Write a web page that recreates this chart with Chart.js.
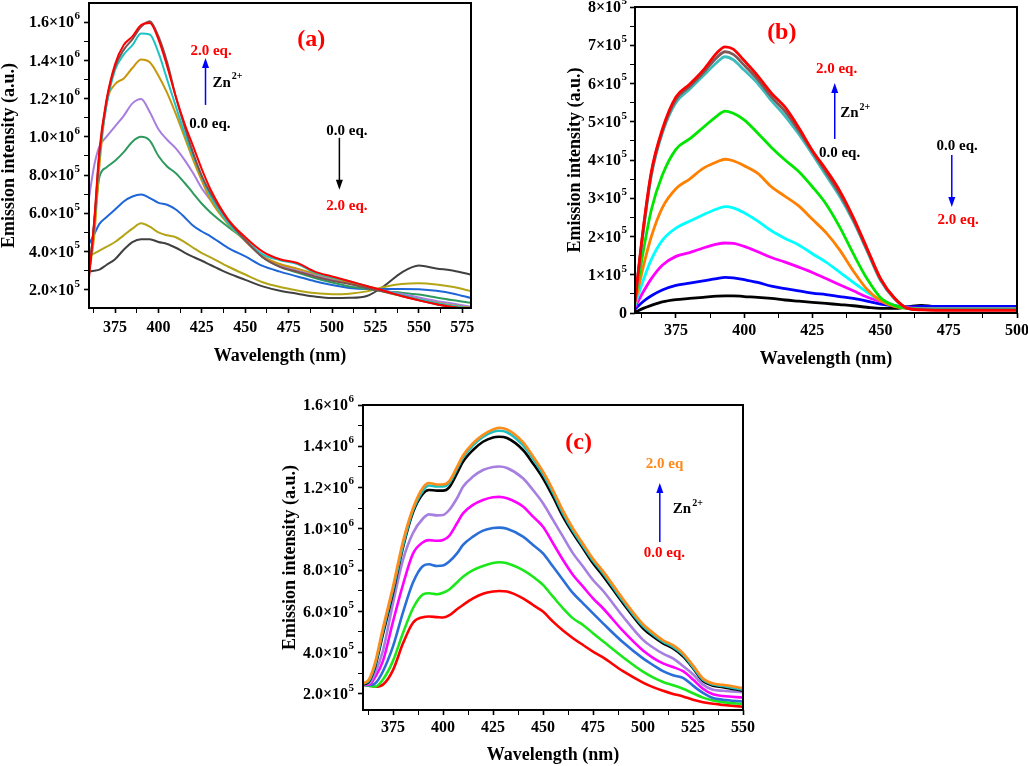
<!DOCTYPE html>
<html>
<head>
<meta charset="utf-8">
<script src="https://cdn.jsdelivr.net/npm/chart.js@4.4.1/dist/chart.umd.min.js"></script>
<style>
  body { margin: 0; background: #fff; width: 1028px; height: 766px; position: relative; overflow: hidden; }
  canvas { position: absolute; }
</style>
</head>
<body>
<canvas id="panelA" width="490" height="380" style="left:0px;top:0px"></canvas>
<canvas id="panelB" width="508" height="380" style="left:520px;top:0px"></canvas>
<canvas id="panelC" width="500" height="376" style="left:270px;top:390px"></canvas>
<script>
// all intensities in units of 10^5 a.u.

// ---- panel (a) ----
const wlA = [360, 363, 366, 370, 375, 380, 385, 390, 395, 400, 405, 410, 415, 420, 425, 430, 440, 450, 460, 470, 480, 490, 500, 510, 520, 530, 540, 550, 560, 570, 580];
const a00 = [2.96, 3.0, 3.06, 3.3, 3.6, 4.1, 4.5, 4.65, 4.65, 4.5, 4.4, 4.2, 3.95, 3.72, 3.52, 3.3, 2.87, 2.52, 2.18, 1.95, 1.8, 1.65, 1.57, 1.58, 1.68, 2.2, 2.9, 3.27, 3.12, 3.0, 2.79];
const a01 = [3.74, 3.9, 4.05, 4.25, 4.5, 4.85, 5.2, 5.48, 5.3, 5.0, 4.85, 4.75, 4.5, 4.2, 3.92, 3.7, 3.22, 2.8, 2.4, 2.15, 1.97, 1.83, 1.77, 1.8, 1.92, 2.15, 2.3, 2.34, 2.28, 2.15, 1.93];
const a02 = [4.4, 4.9, 5.45, 5.8, 6.2, 6.62, 6.88, 6.98, 6.8, 6.55, 6.45, 6.2, 5.8, 5.35, 5.05, 4.8, 4.2, 3.75, 3.25, 2.95, 2.7, 2.45, 2.25, 2.1, 2.05, 2.05, 2.05, 2.03, 1.95, 1.8, 1.57];
const a03 = [2.9, 5.5, 7.9, 8.4, 8.75, 9.2, 9.75, 10.0, 9.8, 9.0, 8.45, 8.1, 7.6, 7.05, 6.5, 6.05, 5.3, 4.6, 3.7, 3.2, 2.9, 2.62, 2.38, 2.18, 2.05, 1.93, 1.85, 1.75, 1.6, 1.45, 1.32];
const a04 = [6.8, 8.5, 9.5, 10.0, 10.55, 11.1, 11.75, 11.98, 11.3, 10.4, 9.85, 9.4, 8.8, 8.1, 7.3, 6.7, 5.65, 4.55, 3.75, 3.3, 3.0, 2.8, 2.55, 2.35, 2.15, 1.95, 1.78, 1.6, 1.42, 1.27, 1.12];
const a05 = [2.9, 4.8, 8.5, 11.7, 12.75, 13.05, 13.6, 14.05, 13.9, 13.2, 12.3, 11.2, 10.0, 8.8, 7.7, 6.7, 5.45, 4.55, 3.75, 3.35, 3.1, 2.85, 2.62, 2.38, 2.15, 1.9, 1.68, 1.5, 1.33, 1.18, 1.05];
const a06 = [2.8, 5.4, 9.0, 11.6, 13.5, 14.3, 14.8, 15.4, 15.35, 14.4, 13.0, 11.6, 10.2, 9.0, 7.9, 6.9, 5.5, 4.6, 3.85, 3.55, 3.35, 2.9, 2.65, 2.45, 2.2, 1.95, 1.72, 1.5, 1.3, 1.15, 1.0];
const a07 = [2.8, 5.5, 9.1, 11.8, 13.65, 14.55, 15.1, 15.75, 16.05, 15.25, 13.9, 12.1, 10.55, 9.15, 7.95, 7.05, 5.65, 4.6, 3.7, 3.2, 2.95, 2.7, 2.48, 2.3, 2.1, 1.9, 1.68, 1.45, 1.25, 1.05, 0.9];
const a08 = [2.6, 5.6, 9.3, 11.9, 13.8, 14.8, 15.25, 15.85, 15.95, 15.1, 13.7, 12.1, 10.7, 9.5, 8.3, 7.25, 5.7, 4.75, 4.0, 3.6, 3.4, 2.95, 2.7, 2.45, 2.2, 1.95, 1.68, 1.45, 1.25, 1.1, 0.95];
const colorsA = ['#404040', '#b3a516', '#1e66d8', '#2e9a5e', '#a87de0', '#c8960c', '#1cc3c3', '#7d5050', '#ff0000'];
const xTicksA = [362.5, 375, 387.5, 400, 412.5, 425, 437.5, 450, 462.5, 475, 487.5, 500, 512.5, 525, 537.5, 550, 562.5, 575];
const yTicksA = [2, 3, 4, 5, 6, 7, 8, 9, 10, 11, 12, 13, 14, 15, 16];

// ---- panel (b) ----
const wlB = [360, 363, 366, 370, 375, 380, 385, 390, 393, 396, 400, 405, 410, 415, 420, 425, 430, 435, 440, 445, 450, 455, 460, 465, 470, 480, 490, 500];
const b00 = [0.02, 0.12, 0.2, 0.29, 0.35, 0.38, 0.41, 0.44, 0.45, 0.45, 0.43, 0.41, 0.38, 0.34, 0.31, 0.28, 0.25, 0.22, 0.19, 0.15, 0.12, 0.12, 0.16, 0.2, 0.17, 0.17, 0.17, 0.17];
const b01 = [0.1, 0.3, 0.45, 0.6, 0.72, 0.78, 0.84, 0.9, 0.93, 0.92, 0.87, 0.8, 0.7, 0.64, 0.58, 0.52, 0.48, 0.43, 0.38, 0.31, 0.23, 0.18, 0.16, 0.17, 0.17, 0.17, 0.17, 0.17];
const b02 = [0.15, 0.55, 0.9, 1.25, 1.48, 1.58, 1.7, 1.8, 1.83, 1.82, 1.74, 1.6, 1.45, 1.33, 1.2, 1.06, 0.9, 0.74, 0.58, 0.42, 0.3, 0.2, 0.14, 0.12, 0.12, 0.12, 0.12, 0.12];
const b03 = [0.2, 0.85, 1.4, 1.9, 2.22, 2.4, 2.57, 2.72, 2.78, 2.75, 2.62, 2.4, 2.15, 1.95, 1.78, 1.55, 1.33, 1.07, 0.8, 0.55, 0.33, 0.2, 0.13, 0.11, 0.11, 0.11, 0.11, 0.11];
const b04 = [0.25, 1.2, 2.0, 2.75, 3.25, 3.5, 3.78, 3.95, 4.02, 3.98, 3.85, 3.65, 3.3, 3.05, 2.8, 2.45, 2.1, 1.65, 1.1, 0.62, 0.32, 0.17, 0.12, 0.1, 0.1, 0.1, 0.1, 0.1];
const b05 = [0.3, 1.6, 2.7, 3.6, 4.28, 4.55, 4.85, 5.15, 5.28, 5.22, 5.05, 4.7, 4.33, 4.0, 3.7, 3.3, 2.85, 2.25, 1.55, 0.9, 0.4, 0.2, 0.12, 0.1, 0.1, 0.1, 0.1, 0.1];
const b06 = [0.3, 2.1, 3.6, 4.7, 5.5, 5.85, 6.2, 6.55, 6.7, 6.62, 6.35, 6.0, 5.55, 5.15, 4.68, 4.15, 3.6, 3.05, 2.4, 1.63, 0.85, 0.38, 0.12, 0.09, 0.09, 0.09, 0.09, 0.09];
const b07 = [0.3, 2.15, 3.65, 4.75, 5.58, 5.92, 6.28, 6.68, 6.83, 6.76, 6.48, 6.1, 5.65, 5.27, 4.77, 4.22, 3.68, 3.12, 2.45, 1.66, 0.88, 0.39, 0.12, 0.09, 0.08, 0.08, 0.08, 0.08];
const b08 = [0.3, 2.2, 3.7, 4.8, 5.65, 5.98, 6.35, 6.8, 6.96, 6.9, 6.6, 6.2, 5.75, 5.38, 4.85, 4.25, 3.75, 3.2, 2.5, 1.7, 0.9, 0.4, 0.12, 0.08, 0.07, 0.07, 0.07, 0.07];
const colorsB = ['#000000', '#0000ff', '#ff00ff', '#00ffff', '#ff8000', '#00e600', '#3cbcbc', '#805858', '#ff0000'];
const xTicksB = [362.5, 375, 387.5, 400, 412.5, 425, 437.5, 450, 462.5, 475, 487.5, 500];
const yTicksB = [0, 0.5, 1, 1.5, 2, 2.5, 3, 3.5, 4, 4.5, 5, 5.5, 6, 6.5, 7, 7.5, 8];

// ---- panel (c) ----
const wlC = [360, 363, 366, 370, 375, 380, 385, 390, 393, 397, 400, 403, 407, 410, 415, 420, 425, 428, 432, 440, 445, 450, 455, 460, 465, 470, 475, 480, 490, 500, 505, 510, 515, 520, 525, 530, 535, 540, 550];
const c00 = [2.45, 2.4, 2.35, 2.45, 3.15, 4.45, 5.45, 5.72, 5.75, 5.72, 5.7, 5.8, 6.1, 6.31, 6.63, 6.85, 6.96, 6.99, 6.96, 6.63, 6.31, 5.99, 5.5, 5.07, 4.7, 4.37, 4.05, 3.77, 3.1, 2.55, 2.33, 2.15, 2.0, 1.88, 1.72, 1.6, 1.52, 1.47, 1.38];
const c01 = [2.45, 2.4, 2.35, 2.7, 3.6, 4.95, 6.15, 6.82, 6.88, 6.83, 6.9, 7.05, 7.4, 7.68, 8.0, 8.2, 8.34, 8.38, 8.33, 8.0, 7.68, 7.28, 6.71, 6.15, 5.66, 5.34, 4.94, 4.55, 3.78, 3.08, 2.8, 2.58, 2.42, 2.25, 2.03, 1.82, 1.68, 1.6, 1.5];
const c02 = [2.45, 2.42, 2.5, 3.1, 4.3, 5.95, 7.4, 8.2, 8.28, 8.2, 8.22, 8.4, 8.81, 9.22, 9.62, 9.91, 10.04, 10.06, 10.0, 9.62, 9.22, 8.81, 8.17, 7.52, 6.88, 6.39, 5.9, 5.42, 4.5, 3.72, 3.4, 3.1, 2.9, 2.78, 2.4, 2.05, 1.8, 1.72, 1.63];
const c03 = [2.45, 2.45, 2.8, 3.6, 5.5, 7.3, 8.8, 9.35, 9.45, 9.42, 9.46, 9.65, 10.27, 10.75, 11.16, 11.4, 11.53, 11.55, 11.48, 11.08, 10.59, 10.1, 9.3, 8.49, 7.76, 7.2, 6.63, 6.15, 5.05, 4.1, 3.75, 3.48, 3.3, 3.1, 2.7, 2.25, 1.98, 1.9, 1.82];
const c04 = [2.45, 2.5, 3.0, 4.1, 6.4, 8.5, 9.8, 10.5, 10.7, 10.65, 10.67, 10.9, 11.48, 12.04, 12.53, 12.85, 13.0, 13.02, 12.95, 12.45, 11.88, 11.24, 10.43, 9.62, 8.81, 8.17, 7.52, 7.0, 5.75, 4.62, 4.25, 3.95, 3.72, 3.35, 2.95, 2.45, 2.2, 2.15, 2.08];
const c05 = [2.45, 2.6, 3.3, 4.9, 6.9, 9.1, 10.8, 11.7, 11.88, 11.85, 11.85, 12.0, 12.69, 13.25, 13.82, 14.22, 14.43, 14.46, 14.4, 13.82, 13.17, 12.45, 11.56, 10.59, 9.78, 9.06, 8.33, 7.72, 6.4, 5.18, 4.78, 4.45, 4.2, 3.82, 3.25, 2.62, 2.4, 2.33, 2.15];
const c06 = [2.5, 2.65, 3.4, 5.05, 7.05, 9.2, 10.9, 11.85, 12.1, 12.05, 12.05, 12.2, 12.9, 13.45, 14.05, 14.45, 14.7, 14.75, 14.68, 14.05, 13.4, 12.65, 11.75, 10.75, 9.9, 9.17, 8.45, 7.85, 6.5, 5.28, 4.88, 4.53, 4.28, 3.9, 3.3, 2.68, 2.45, 2.38, 2.2];
const c07 = [2.5, 2.7, 3.5, 5.2, 7.2, 9.4, 11.0, 12.0, 12.22, 12.15, 12.15, 12.3, 13.0, 13.55, 14.15, 14.55, 14.82, 14.9, 14.82, 14.2, 13.52, 12.78, 11.88, 10.88, 10.02, 9.28, 8.55, 7.95, 6.6, 5.38, 4.96, 4.6, 4.36, 3.98, 3.38, 2.75, 2.5, 2.44, 2.28];
const colorsC = ['#ff0000', '#1be81b', '#2a6fd8', '#ff00ff', '#a67fe0', '#000000', '#1fbfbf', '#ff8c1a'];
const xTicksC = [362.5, 375, 387.5, 400, 412.5, 425, 437.5, 450, 462.5, 475, 487.5, 500, 512.5, 525, 537.5, 550];
const yTicksC = [2, 3, 4, 5, 6, 7, 8, 9, 10, 11, 12, 13, 14, 15, 16];

const serif = '"Liberation Serif", "Times New Roman", serif';

// y labels as [base, exponent]; null for minor ticks
function sciLabel(v) {
    if (v % 2 !== 0) return null;
    return v >= 10 ? [(v / 10).toFixed(1) + '×10', '6'] : [v.toFixed(1) + '×10', '5'];
}

function intLabel(v) {
    if (v % 1 !== 0) return null;
    return v === 0 ? ['0', ''] : [v + '×10', '5'];
}

// frame, y tick labels with exponents, and text/arrow notes in data coordinates
function notesPlugin(notes, yTicks, yFmt, yGap) {
    return {
        id: 'notes',
        afterDraw(chart) {
            const ctx = chart.ctx;
            const a = chart.chartArea;
            const xs = chart.scales.x, ys = chart.scales.y;
            ctx.save();
            ctx.strokeStyle = '#000';
            ctx.lineWidth = 2;
            ctx.strokeRect(a.left, a.top, a.right - a.left, a.bottom - a.top);

            ctx.fillStyle = '#000';
            ctx.textBaseline = 'middle';
            yTicks.forEach(v => {
                const lab = yFmt(v);
                if (!lab) return;
                const py = ys.getPixelForValue(v);
                let right = a.left - yGap;
                ctx.font = 'bold 11px ' + serif;
                const supW = lab[1] ? ctx.measureText(lab[1]).width : 0;
                if (lab[1]) {
                    ctx.textAlign = 'right';
                    ctx.fillText(lab[1], right, py - 6);
                    right -= supW + 0.5;
                }
                ctx.font = 'bold 16px ' + serif;
                ctx.textAlign = 'right';
                ctx.fillText(lab[0], right, py + 1);
            });

            notes.arrows.forEach(ar => {
                const px = xs.getPixelForValue(ar.x);
                const p1 = ys.getPixelForValue(ar.from);
                const p2 = ys.getPixelForValue(ar.to);
                const dir = p2 < p1 ? 1 : -1;
                ctx.strokeStyle = ar.color;
                ctx.fillStyle = ar.color;
                ctx.lineWidth = 1.5;
                ctx.beginPath();
                ctx.moveTo(px, p1);
                ctx.lineTo(px, p2 + dir * 8);
                ctx.stroke();
                ctx.beginPath();
                ctx.moveTo(px, p2);
                ctx.lineTo(px - 3.5, p2 + dir * 10);
                ctx.lineTo(px + 3.5, p2 + dir * 10);
                ctx.closePath();
                ctx.fill();
            });

            notes.labels.forEach(lb => {
                const px = xs.getPixelForValue(lb.x);
                const py = ys.getPixelForValue(lb.y);
                ctx.fillStyle = lb.color;
                ctx.font = 'bold ' + (lb.size || 15) + 'px ' + serif;
                ctx.textAlign = lb.align || 'left';
                ctx.fillText(lb.text, px, py);
                if (lb.sup) {
                    const w = ctx.measureText(lb.text).width;
                    ctx.font = 'bold 10px ' + serif;
                    ctx.textAlign = 'left';
                    ctx.fillText(lb.sup, px + w + 1, py - 6);
                }
            });
            ctx.restore();
        }
    };
}

function buildChart(id, wl, series, colors, lw, xr, yr, xTicks, yTicks, yFmt, box, notes) {
    const datasets = series.map((vals, i) => ({
        data: wl.map((w, j) => ({x: w, y: vals[j]})),
        borderColor: colors[i],
        borderWidth: lw,
        pointRadius: 0,
        cubicInterpolationMode: 'monotone',
        fill: false
    })).reverse();  // highest eq. drawn on top

    const titleFont = {family: serif, size: 18, weight: 'bold', lineHeight: 1};
    const noPad = s => { s.paddingTop = 0; s.paddingBottom = 0; s.paddingLeft = 0; s.paddingRight = 0; };

    return new Chart(document.getElementById(id), {
        type: 'line',
        data: {datasets: datasets},
        options: {
            responsive: false,
            animation: false,
            devicePixelRatio: 1,
            layout: {padding: box.pad},
            plugins: {legend: {display: false}, tooltip: {enabled: false}},
            scales: {
                x: {
                    type: 'linear',
                    min: xr[0],
                    max: xr[1],
                    afterBuildTicks: s => { s.ticks = xTicks.map(v => ({value: v})); },
                    afterFit: s => { s.height = box.xHeight; noPad(s); },
                    border: {display: false},
                    grid: {
                        drawOnChartArea: false,
                        tickLength: 5,
                        color: '#000',
                        tickColor: '#000',
                        tickWidth: c => (c.tick && c.tick.value % 25 === 0 ? 1.6 : 1)
                    },
                    ticks: {
                        autoSkip: false,
                        maxRotation: 0,
                        padding: box.xTickPad,
                        color: '#000',
                        font: {family: serif, size: 16, weight: 'bold'},
                        callback: v => (v % 25 === 0 ? String(v) : '')
                    },
                    title: {
                        display: true,
                        text: 'Wavelength (nm)',
                        color: '#000',
                        font: titleFont,
                        padding: {top: 0, bottom: box.titleBottom}
                    }
                },
                y: {
                    min: yr[0],
                    max: yr[1],
                    afterBuildTicks: s => { s.ticks = yTicks.map(v => ({value: v})); },
                    afterFit: s => { s.width = box.yWidth; noPad(s); },
                    border: {display: false},
                    grid: {
                        drawOnChartArea: false,
                        tickLength: 5,
                        color: '#000',
                        tickColor: '#000',
                        tickWidth: c => (c.tick && yFmt(c.tick.value) ? 1.6 : 1)
                    },
                    ticks: {display: false},
                    title: {
                        display: true,
                        text: 'Emission intensity (a.u.)',
                        color: '#000',
                        font: titleFont,
                        padding: {top: 0, bottom: 0}
                    }
                }
            }
        },
        plugins: [notesPlugin(notes, yTicks, yFmt, box.yLabelGap)]
    });
}

const notesA = {
    labels: [
        {text: '(a)', x: 488, y: 15.07, color: '#ff0000', size: 24, align: 'center'},
        {text: '2.0 eq.', x: 418.4, y: 14.5, color: '#ff0000'},
        {text: 'Zn', sup: '2+', x: 431.1, y: 12.83, color: '#000'},
        {text: '0.0 eq.', x: 417.8, y: 10.68, color: '#000'},
        {text: '0.0 eq.', x: 496.7, y: 10.29, color: '#000'},
        {text: '2.0 eq.', x: 496.7, y: 6.39, color: '#ff0000'}
    ],
    arrows: [
        {x: 427.1, from: 11.67, to: 14.13, color: '#0000ff'},
        {x: 504.2, from: 9.95, to: 7.23, color: '#000'}
    ]
};

const notesB = {
    labels: [
        {text: '(b)', x: 413.8, y: 7.32, color: '#ff0000', size: 24, align: 'center'},
        {text: '2.0 eq.', x: 426.3, y: 6.38, color: '#ff0000'},
        {text: 'Zn', sup: '2+', x: 435.2, y: 5.22, color: '#000'},
        {text: '0.0 eq.', x: 427.4, y: 4.17, color: '#000'},
        {text: '0.0 eq.', x: 470.5, y: 4.37, color: '#000'},
        {text: '2.0 eq.', x: 470.9, y: 2.43, color: '#ff0000'}
    ],
    arrows: [
        {x: 433.2, from: 4.55, to: 6.01, color: '#0000ff'},
        {x: 476.1, from: 4.13, to: 2.77, color: '#0000ff'}
    ]
};

const notesC = {
    labels: [
        {text: '(c)', x: 467.8, y: 14.16, color: '#ff0000', size: 24, align: 'center'},
        {text: '2.0 eq', x: 501.4, y: 13.12, color: '#ff8a1a'},
        {text: 'Zn', sup: '2+', x: 514.9, y: 10.94, color: '#000'},
        {text: '0.0 eq.', x: 500.4, y: 8.81, color: '#ff0000'}
    ],
    arrows: [
        {x: 508.4, from: 9.36, to: 12.22, color: '#0000ff'}
    ]
};

var chartA = buildChart('panelA', wlA, [a00, a01, a02, a03, a04, a05, a06, a07, a08], colorsA, 2,
    [360, 580], [1.05, 17], xTicksA, yTicksA, sciLabel,
    {pad: {left: 0, top: 3, right: 19, bottom: 0}, yWidth: 89, xHeight: 72, titleBottom: 15, xTickPad: 5, yLabelGap: 9},
    notesA);

var chartB = buildChart('panelB', wlB, [b00, b01, b02, b03, b04, b05, b06, b07, b08], colorsB, 2.8,
    [360, 500], [0, 8], xTicksB, yTicksB, intLabel,
    {pad: {left: 46, top: 7, right: 11, bottom: 0}, yWidth: 69, xHeight: 67, titleBottom: 12, xTickPad: 3, yLabelGap: 8},
    notesB);

var chartC = buildChart('panelC', wlC, [c00, c01, c02, c03, c04, c05, c06, c07], colorsC, 2.6,
    [360, 550], [1.22, 16], xTicksC, yTicksC, sciLabel,
    {pad: {left: 11, top: 15, right: 27, bottom: 0}, yWidth: 82, xHeight: 56, titleBottom: 2, xTickPad: 3, yLabelGap: 9},
    notesC);
</script>
</body>
</html>
